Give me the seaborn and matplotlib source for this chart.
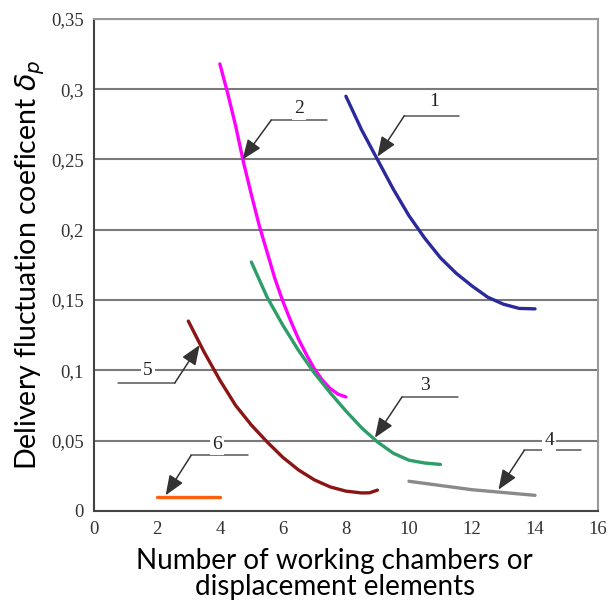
import numpy as np
import pandas as pd
import matplotlib
matplotlib.use('Agg')
import matplotlib.pyplot as plt
import seaborn as sns
from matplotlib.ticker import FuncFormatter

# Значения кривых
x1 = [8, 8.5, 9, 9.5, 10, 10.5, 11, 11.5, 12, 12.5, 13, 13.5, 14]
y1 = [0.295, 0.271, 0.25, 0.229, 0.21, 0.194, 0.18, 0.169, 0.16, 0.152, 0.147, 0.144, 0.1437]

x2 = [4, 4.25, 4.5, 4.75, 5, 5.25, 5.5, 5.75, 6, 6.25, 6.5, 6.75, 7, 7.25, 7.5, 7.75, 8]
y2 = [0.318, 0.297, 0.274, 0.248, 0.225, 0.203, 0.184, 0.165, 0.149, 0.135, 0.122, 0.111,
      0.101, 0.093, 0.087, 0.083, 0.081]

x3 = [5, 5.5, 6, 6.5, 7, 7.5, 8, 8.5, 9, 9.5, 10, 10.5, 11]
y3 = [0.177, 0.152, 0.132, 0.114, 0.098, 0.084, 0.071, 0.059, 0.049, 0.041, 0.036, 0.034, 0.033]

x4 = [10, 11, 12, 13, 14]
y4 = [0.021, 0.018, 0.015, 0.013, 0.011]

x5 = [3, 3.25, 3.5, 3.75, 4, 4.5, 5, 5.5, 6, 6.5, 7, 7.5, 8, 8.5, 8.75, 9]
y5 = [0.135, 0.124, 0.113, 0.103, 0.093, 0.075, 0.061, 0.049, 0.038, 0.029, 0.022, 0.017,
      0.014, 0.0127, 0.0128, 0.0147]

x6 = [2, 4]
y6 = [0.01, 0.01]

curve_names = ['1', '2', '3', '4', '5', '6']
curve_colors = ['#2a2a9c', '#ff00ff', '#2e9d68', '#8a8a8a', '#8b1515', '#ff6010']

# Подписи: (текст, точка текста, начало полки, конец полки, острие стрелки)
labels = [
    ('1', (10.8, 0.291), (9.85, 0.281), (11.6, 0.281), (9.0, 0.252)),
    ('2', (6.5, 0.286), (5.63, 0.278), (7.4, 0.278), (4.72, 0.250)),
    ('3', (10.5, 0.089), (9.78, 0.081), (11.55, 0.081), (8.92, 0.052)),
    ('4', (14.45, 0.050), (13.66, 0.043), (15.45, 0.043), (12.84, 0.015)),
    ('5', (1.72, 0.100), (2.57, 0.091), (0.77, 0.091), (3.36, 0.118)),
    ('6', (3.9, 0.0475), (3.09, 0.0395), (4.89, 0.0395), (2.28, 0.011)),
]

xs = [x1, x2, x3, x4, x5, x6]
ys = [y1, y2, y3, y4, y5, y6]

sns.set_style('white')

fig = plt.figure(figsize=(6.09, 6.11), dpi=100)
ax = fig.add_axes([0.154, 0.164, 0.828, 0.805])

for name, color, x, y in zip(curve_names, curve_colors, xs, ys):
    df = pd.DataFrame({'x': x, 'y': y})
    sns.lineplot(data=df, x='x', y='y', color=color, linewidth=2.4, ax=ax, zorder=3)

for text, tpos, h0, h1, tip in labels:
    ax.plot([h0[0], h1[0]], [h0[1], h1[1]], color='#555555', linewidth=1.1, zorder=4)
    ax.annotate('', xy=tip, xytext=h0,
                arrowprops=dict(arrowstyle='-|>,head_length=0.55,head_width=0.22',
                                color='#333333', lw=1.1,
                                mutation_scale=22, shrinkA=0, shrinkB=0,
                                facecolor='black'),
                zorder=5)
    ax.text(tpos[0], tpos[1], text, ha='center', va='center',
            fontsize=14, family='Liberation Serif', color='#222222', zorder=6,
            bbox=dict(facecolor='white', edgecolor='none', pad=1.5))

ax.set_xlim(0, 16)
ax.set_ylim(0, 0.35)
ax.set_xticks(np.arange(0, 17, 2))
ax.set_yticks(np.arange(0, 0.351, 0.05))
ax.yaxis.set_major_formatter(FuncFormatter(lambda v, p: ('%g' % round(v, 2)).replace('.', ',')))
ax.grid(axis='y', color='#7a7a7a', linewidth=1.5)
ax.grid(axis='x', visible=False)
ax.set_axisbelow(True)

for side in ['top', 'right']:
    ax.spines[side].set_color('#999999')
    ax.spines[side].set_linewidth(1.5)
for side in ['left', 'bottom']:
    ax.spines[side].set_color('#444444')
    ax.spines[side].set_linewidth(1.5)

ax.tick_params(axis='both', which='major', direction='out', length=4, width=1,
               color='#444444', labelsize=13.5, labelcolor='#333333', pad=3)
for lab in ax.get_xticklabels() + ax.get_yticklabels():
    lab.set_family('Liberation Serif')

ax.set_xlabel('Number of working chambers or\ndisplacement elements',
              fontsize=20, family='Lato', color='black', linespacing=1.0)
ax.xaxis.set_label_coords(0.478, -0.075)
ax.set_ylabel(r'Delivery fluctuation coeficent $\delta_p$',
              fontsize=20.5, family='Lato', color='black')
ax.yaxis.set_label_coords(-0.092, 0.5)

fig.savefig('out.png', dpi=100)
